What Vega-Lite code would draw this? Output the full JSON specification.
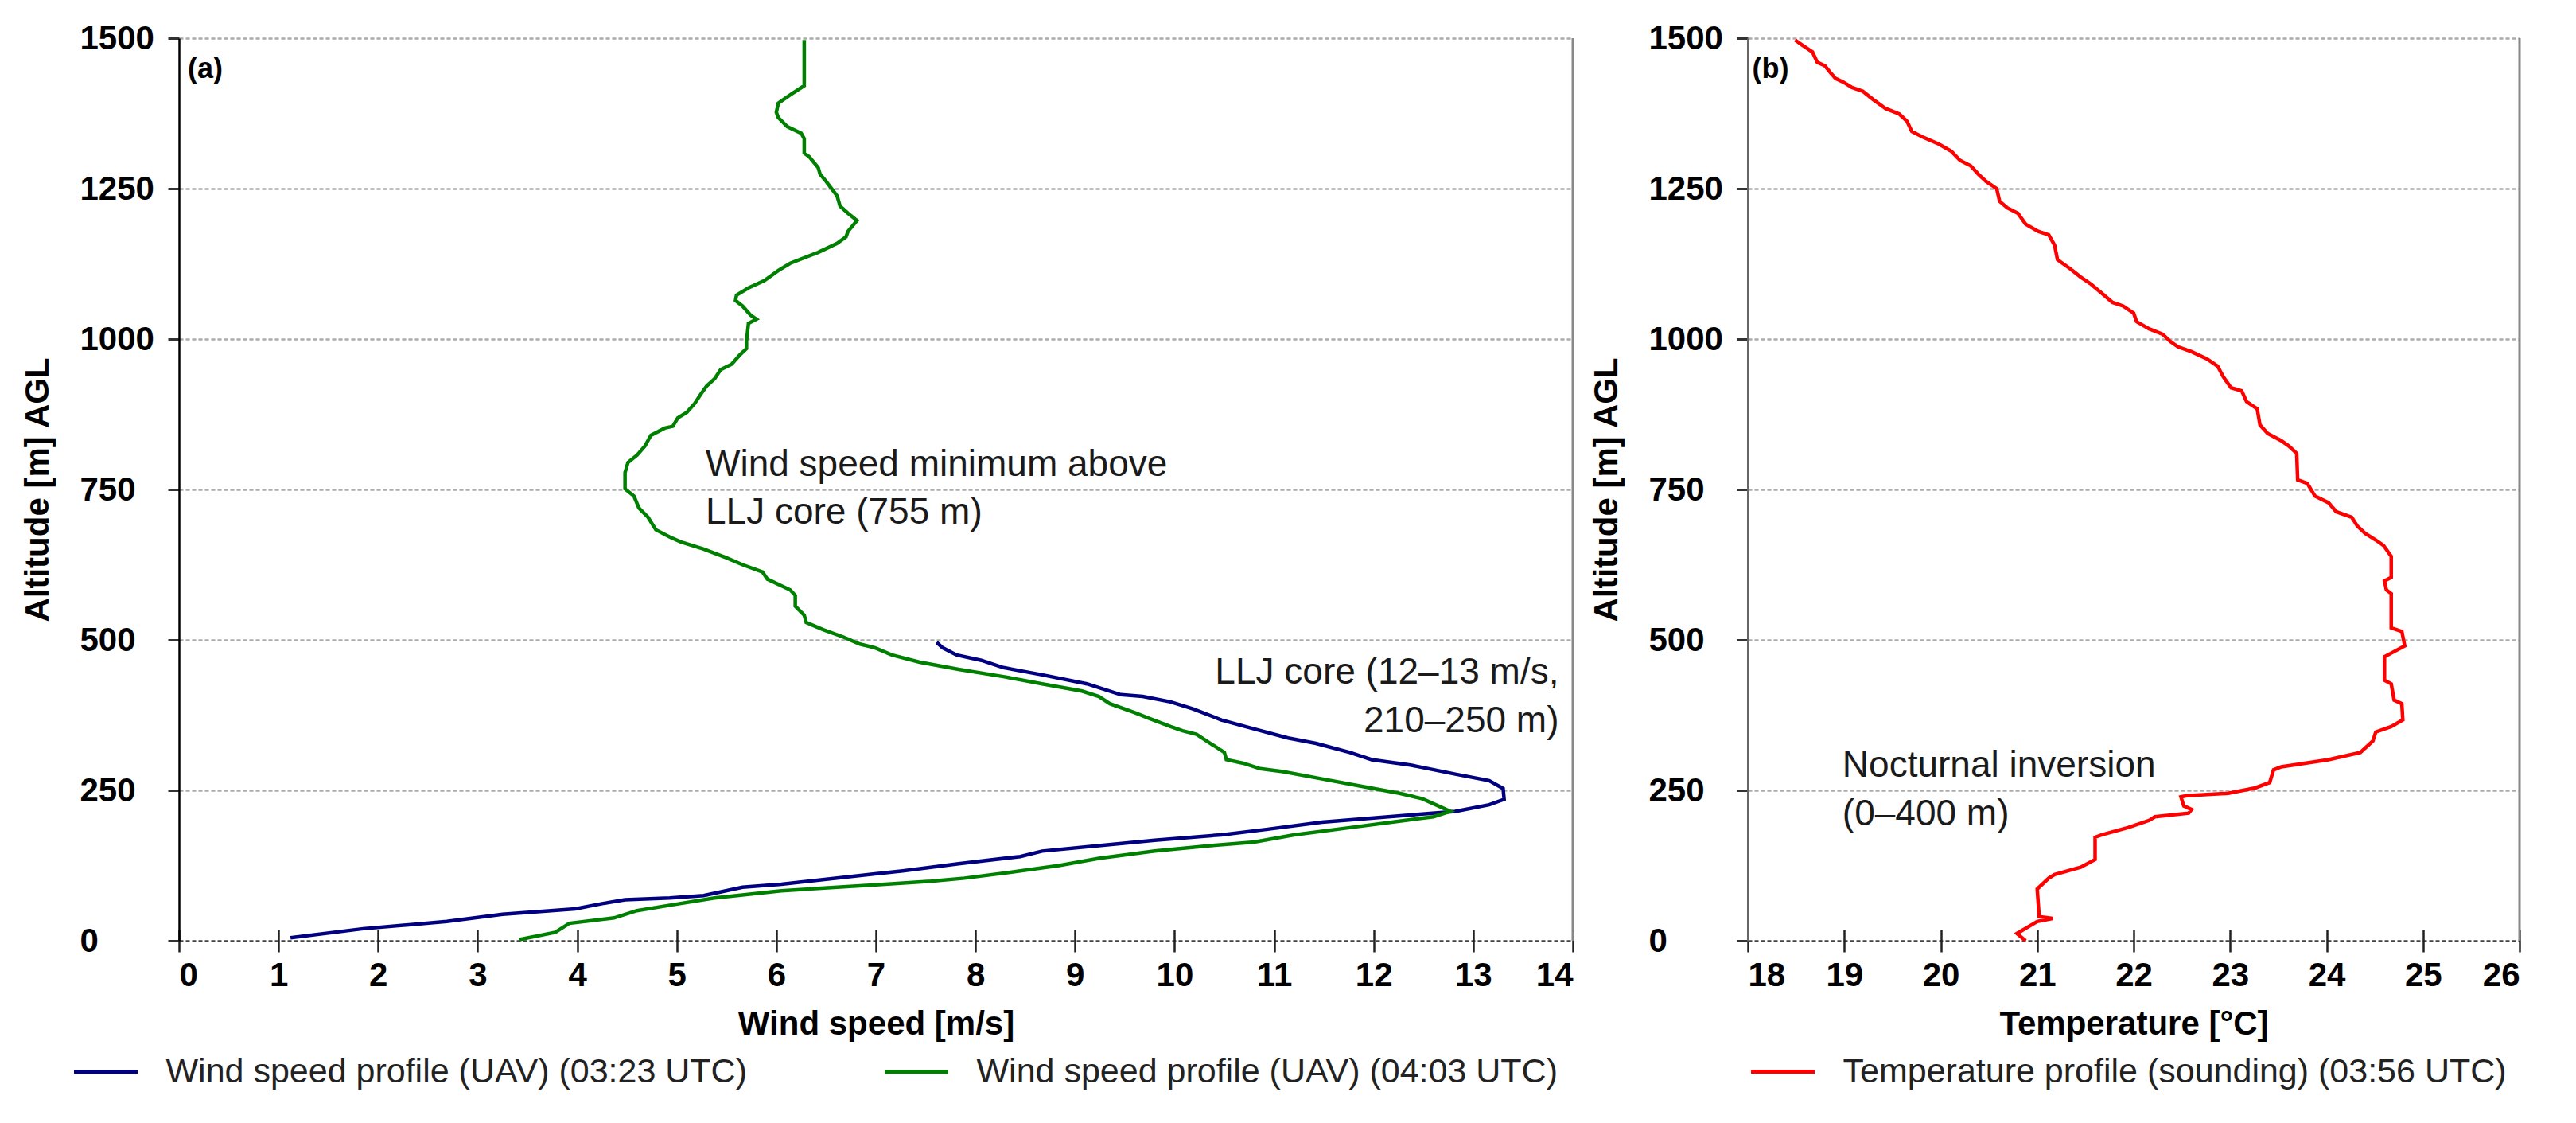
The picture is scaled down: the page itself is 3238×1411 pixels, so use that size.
{
  "$schema": "https://vega.github.io/schema/vega-lite/v6.json",
  "padding": {"left": 26, "top": 27, "right": 0, "bottom": 0},
  "background": "white",
  "config": {
    "font": "Liberation Sans",
    "view": {"stroke": null},
    "axis": {
      "labelFont": "Liberation Sans", "labelFontSize": 42, "labelFontWeight": "bold", "labelColor": "#000",
      "titleFont": "Liberation Sans", "titleFontSize": 42, "titleFontWeight": "bold", "titleColor": "#000",
      "labelOverlap": false, "format": "d"
    },
    "legend": {
      "labelFont": "Liberation Sans", "labelFontSize": 43, "labelColor": "#222", "labelLimit": 2000,
      "symbolType": "stroke", "symbolSize": 6400, "symbolStrokeWidth": 5, "labelOffset": 33, "padding": 0
    }
  },
  "datasets": {
    "wind": [
      {"profile": "Wind speed profile (UAV) (03:23 UTC)", "speed": 1.12, "altitude": 5},
      {"profile": "Wind speed profile (UAV) (03:23 UTC)", "speed": 1.85, "altitude": 20},
      {"profile": "Wind speed profile (UAV) (03:23 UTC)", "speed": 2.69, "altitude": 32},
      {"profile": "Wind speed profile (UAV) (03:23 UTC)", "speed": 3.25, "altitude": 44},
      {"profile": "Wind speed profile (UAV) (03:23 UTC)", "speed": 3.98, "altitude": 53},
      {"profile": "Wind speed profile (UAV) (03:23 UTC)", "speed": 4.26, "altitude": 62},
      {"profile": "Wind speed profile (UAV) (03:23 UTC)", "speed": 4.48, "altitude": 68},
      {"profile": "Wind speed profile (UAV) (03:23 UTC)", "speed": 4.93, "altitude": 71},
      {"profile": "Wind speed profile (UAV) (03:23 UTC)", "speed": 5.27, "altitude": 75},
      {"profile": "Wind speed profile (UAV) (03:23 UTC)", "speed": 5.66, "altitude": 89},
      {"profile": "Wind speed profile (UAV) (03:23 UTC)", "speed": 6.05, "altitude": 94},
      {"profile": "Wind speed profile (UAV) (03:23 UTC)", "speed": 6.99, "altitude": 111},
      {"profile": "Wind speed profile (UAV) (03:23 UTC)", "speed": 7.27, "altitude": 116},
      {"profile": "Wind speed profile (UAV) (03:23 UTC)", "speed": 7.83, "altitude": 128},
      {"profile": "Wind speed profile (UAV) (03:23 UTC)", "speed": 8.45, "altitude": 140},
      {"profile": "Wind speed profile (UAV) (03:23 UTC)", "speed": 8.67, "altitude": 149},
      {"profile": "Wind speed profile (UAV) (03:23 UTC)", "speed": 9.24, "altitude": 158},
      {"profile": "Wind speed profile (UAV) (03:23 UTC)", "speed": 9.8, "altitude": 167},
      {"profile": "Wind speed profile (UAV) (03:23 UTC)", "speed": 10.47, "altitude": 176},
      {"profile": "Wind speed profile (UAV) (03:23 UTC)", "speed": 10.92, "altitude": 185},
      {"profile": "Wind speed profile (UAV) (03:23 UTC)", "speed": 11.48, "altitude": 197},
      {"profile": "Wind speed profile (UAV) (03:23 UTC)", "speed": 12.37, "altitude": 209},
      {"profile": "Wind speed profile (UAV) (03:23 UTC)", "speed": 12.82, "altitude": 215},
      {"profile": "Wind speed profile (UAV) (03:23 UTC)", "speed": 13.16, "altitude": 226},
      {"profile": "Wind speed profile (UAV) (03:23 UTC)", "speed": 13.31, "altitude": 235},
      {"profile": "Wind speed profile (UAV) (03:23 UTC)", "speed": 13.3, "altitude": 253},
      {"profile": "Wind speed profile (UAV) (03:23 UTC)", "speed": 13.16, "altitude": 266},
      {"profile": "Wind speed profile (UAV) (03:23 UTC)", "speed": 12.82, "altitude": 277},
      {"profile": "Wind speed profile (UAV) (03:23 UTC)", "speed": 12.37, "altitude": 292},
      {"profile": "Wind speed profile (UAV) (03:23 UTC)", "speed": 11.98, "altitude": 301},
      {"profile": "Wind speed profile (UAV) (03:23 UTC)", "speed": 11.76, "altitude": 313},
      {"profile": "Wind speed profile (UAV) (03:23 UTC)", "speed": 11.42, "altitude": 328},
      {"profile": "Wind speed profile (UAV) (03:23 UTC)", "speed": 11.14, "altitude": 337},
      {"profile": "Wind speed profile (UAV) (03:23 UTC)", "speed": 10.8, "altitude": 352},
      {"profile": "Wind speed profile (UAV) (03:23 UTC)", "speed": 10.47, "altitude": 367},
      {"profile": "Wind speed profile (UAV) (03:23 UTC)", "speed": 10.19, "altitude": 385},
      {"profile": "Wind speed profile (UAV) (03:23 UTC)", "speed": 9.96, "altitude": 397},
      {"profile": "Wind speed profile (UAV) (03:23 UTC)", "speed": 9.68, "altitude": 406},
      {"profile": "Wind speed profile (UAV) (03:23 UTC)", "speed": 9.46, "altitude": 409},
      {"profile": "Wind speed profile (UAV) (03:23 UTC)", "speed": 9.12, "altitude": 427},
      {"profile": "Wind speed profile (UAV) (03:23 UTC)", "speed": 8.67, "altitude": 442},
      {"profile": "Wind speed profile (UAV) (03:23 UTC)", "speed": 8.28, "altitude": 454},
      {"profile": "Wind speed profile (UAV) (03:23 UTC)", "speed": 8.06, "altitude": 466},
      {"profile": "Wind speed profile (UAV) (03:23 UTC)", "speed": 7.81, "altitude": 475},
      {"profile": "Wind speed profile (UAV) (03:23 UTC)", "speed": 7.67, "altitude": 487},
      {"profile": "Wind speed profile (UAV) (03:23 UTC)", "speed": 7.61, "altitude": 496},
      {"profile": "Wind speed profile (UAV) (04:03 UTC)", "speed": 3.42, "altitude": 2},
      {"profile": "Wind speed profile (UAV) (04:03 UTC)", "speed": 3.78, "altitude": 14},
      {"profile": "Wind speed profile (UAV) (04:03 UTC)", "speed": 3.92, "altitude": 29},
      {"profile": "Wind speed profile (UAV) (04:03 UTC)", "speed": 4.37, "altitude": 38},
      {"profile": "Wind speed profile (UAV) (04:03 UTC)", "speed": 4.6, "altitude": 50},
      {"profile": "Wind speed profile (UAV) (04:03 UTC)", "speed": 4.93, "altitude": 59},
      {"profile": "Wind speed profile (UAV) (04:03 UTC)", "speed": 5.38, "altitude": 71},
      {"profile": "Wind speed profile (UAV) (04:03 UTC)", "speed": 6.05, "altitude": 83},
      {"profile": "Wind speed profile (UAV) (04:03 UTC)", "speed": 7.0, "altitude": 93},
      {"profile": "Wind speed profile (UAV) (04:03 UTC)", "speed": 7.55, "altitude": 99},
      {"profile": "Wind speed profile (UAV) (04:03 UTC)", "speed": 7.89, "altitude": 104},
      {"profile": "Wind speed profile (UAV) (04:03 UTC)", "speed": 8.45, "altitude": 116},
      {"profile": "Wind speed profile (UAV) (04:03 UTC)", "speed": 8.84, "altitude": 125},
      {"profile": "Wind speed profile (UAV) (04:03 UTC)", "speed": 9.24, "altitude": 137},
      {"profile": "Wind speed profile (UAV) (04:03 UTC)", "speed": 9.8, "altitude": 149},
      {"profile": "Wind speed profile (UAV) (04:03 UTC)", "speed": 10.36, "altitude": 158},
      {"profile": "Wind speed profile (UAV) (04:03 UTC)", "speed": 10.8, "altitude": 164},
      {"profile": "Wind speed profile (UAV) (04:03 UTC)", "speed": 11.2, "altitude": 176},
      {"profile": "Wind speed profile (UAV) (04:03 UTC)", "speed": 11.76, "altitude": 188},
      {"profile": "Wind speed profile (UAV) (04:03 UTC)", "speed": 12.32, "altitude": 200},
      {"profile": "Wind speed profile (UAV) (04:03 UTC)", "speed": 12.6, "altitude": 206},
      {"profile": "Wind speed profile (UAV) (04:03 UTC)", "speed": 12.77, "altitude": 215},
      {"profile": "Wind speed profile (UAV) (04:03 UTC)", "speed": 12.65, "altitude": 224},
      {"profile": "Wind speed profile (UAV) (04:03 UTC)", "speed": 12.49, "altitude": 236},
      {"profile": "Wind speed profile (UAV) (04:03 UTC)", "speed": 12.26, "altitude": 245},
      {"profile": "Wind speed profile (UAV) (04:03 UTC)", "speed": 11.87, "altitude": 257},
      {"profile": "Wind speed profile (UAV) (04:03 UTC)", "speed": 11.48, "altitude": 269},
      {"profile": "Wind speed profile (UAV) (04:03 UTC)", "speed": 11.09, "altitude": 281},
      {"profile": "Wind speed profile (UAV) (04:03 UTC)", "speed": 10.86, "altitude": 286},
      {"profile": "Wind speed profile (UAV) (04:03 UTC)", "speed": 10.69, "altitude": 295},
      {"profile": "Wind speed profile (UAV) (04:03 UTC)", "speed": 10.52, "altitude": 301},
      {"profile": "Wind speed profile (UAV) (04:03 UTC)", "speed": 10.5, "altitude": 313},
      {"profile": "Wind speed profile (UAV) (04:03 UTC)", "speed": 10.36, "altitude": 328},
      {"profile": "Wind speed profile (UAV) (04:03 UTC)", "speed": 10.22, "altitude": 343},
      {"profile": "Wind speed profile (UAV) (04:03 UTC)", "speed": 10.08, "altitude": 349},
      {"profile": "Wind speed profile (UAV) (04:03 UTC)", "speed": 9.96, "altitude": 356},
      {"profile": "Wind speed profile (UAV) (04:03 UTC)", "speed": 9.74, "altitude": 370},
      {"profile": "Wind speed profile (UAV) (04:03 UTC)", "speed": 9.6, "altitude": 379},
      {"profile": "Wind speed profile (UAV) (04:03 UTC)", "speed": 9.35, "altitude": 394},
      {"profile": "Wind speed profile (UAV) (04:03 UTC)", "speed": 9.24, "altitude": 406},
      {"profile": "Wind speed profile (UAV) (04:03 UTC)", "speed": 9.07, "altitude": 415},
      {"profile": "Wind speed profile (UAV) (04:03 UTC)", "speed": 8.67, "altitude": 427},
      {"profile": "Wind speed profile (UAV) (04:03 UTC)", "speed": 8.28, "altitude": 439},
      {"profile": "Wind speed profile (UAV) (04:03 UTC)", "speed": 7.83, "altitude": 451},
      {"profile": "Wind speed profile (UAV) (04:03 UTC)", "speed": 7.44, "altitude": 463},
      {"profile": "Wind speed profile (UAV) (04:03 UTC)", "speed": 7.16, "altitude": 475},
      {"profile": "Wind speed profile (UAV) (04:03 UTC)", "speed": 6.99, "altitude": 487},
      {"profile": "Wind speed profile (UAV) (04:03 UTC)", "speed": 6.84, "altitude": 493},
      {"profile": "Wind speed profile (UAV) (04:03 UTC)", "speed": 6.67, "altitude": 505},
      {"profile": "Wind speed profile (UAV) (04:03 UTC)", "speed": 6.47, "altitude": 517},
      {"profile": "Wind speed profile (UAV) (04:03 UTC)", "speed": 6.3, "altitude": 529},
      {"profile": "Wind speed profile (UAV) (04:03 UTC)", "speed": 6.28, "altitude": 541},
      {"profile": "Wind speed profile (UAV) (04:03 UTC)", "speed": 6.19, "altitude": 556},
      {"profile": "Wind speed profile (UAV) (04:03 UTC)", "speed": 6.19, "altitude": 574},
      {"profile": "Wind speed profile (UAV) (04:03 UTC)", "speed": 6.14, "altitude": 583},
      {"profile": "Wind speed profile (UAV) (04:03 UTC)", "speed": 5.91, "altitude": 601},
      {"profile": "Wind speed profile (UAV) (04:03 UTC)", "speed": 5.86, "altitude": 613},
      {"profile": "Wind speed profile (UAV) (04:03 UTC)", "speed": 5.66, "altitude": 625},
      {"profile": "Wind speed profile (UAV) (04:03 UTC)", "speed": 5.49, "altitude": 637},
      {"profile": "Wind speed profile (UAV) (04:03 UTC)", "speed": 5.27, "altitude": 651},
      {"profile": "Wind speed profile (UAV) (04:03 UTC)", "speed": 5.04, "altitude": 663},
      {"profile": "Wind speed profile (UAV) (04:03 UTC)", "speed": 4.93, "altitude": 671},
      {"profile": "Wind speed profile (UAV) (04:03 UTC)", "speed": 4.79, "altitude": 683},
      {"profile": "Wind speed profile (UAV) (04:03 UTC)", "speed": 4.71, "altitude": 704},
      {"profile": "Wind speed profile (UAV) (04:03 UTC)", "speed": 4.62, "altitude": 719},
      {"profile": "Wind speed profile (UAV) (04:03 UTC)", "speed": 4.57, "altitude": 739},
      {"profile": "Wind speed profile (UAV) (04:03 UTC)", "speed": 4.48, "altitude": 751},
      {"profile": "Wind speed profile (UAV) (04:03 UTC)", "speed": 4.48, "altitude": 778},
      {"profile": "Wind speed profile (UAV) (04:03 UTC)", "speed": 4.51, "altitude": 795},
      {"profile": "Wind speed profile (UAV) (04:03 UTC)", "speed": 4.6, "altitude": 807},
      {"profile": "Wind speed profile (UAV) (04:03 UTC)", "speed": 4.68, "altitude": 822},
      {"profile": "Wind speed profile (UAV) (04:03 UTC)", "speed": 4.74, "altitude": 840},
      {"profile": "Wind speed profile (UAV) (04:03 UTC)", "speed": 4.88, "altitude": 852},
      {"profile": "Wind speed profile (UAV) (04:03 UTC)", "speed": 4.96, "altitude": 855},
      {"profile": "Wind speed profile (UAV) (04:03 UTC)", "speed": 5.01, "altitude": 869},
      {"profile": "Wind speed profile (UAV) (04:03 UTC)", "speed": 5.1, "altitude": 878},
      {"profile": "Wind speed profile (UAV) (04:03 UTC)", "speed": 5.18, "altitude": 893},
      {"profile": "Wind speed profile (UAV) (04:03 UTC)", "speed": 5.24, "altitude": 908},
      {"profile": "Wind speed profile (UAV) (04:03 UTC)", "speed": 5.3, "altitude": 922},
      {"profile": "Wind speed profile (UAV) (04:03 UTC)", "speed": 5.38, "altitude": 934},
      {"profile": "Wind speed profile (UAV) (04:03 UTC)", "speed": 5.44, "altitude": 949},
      {"profile": "Wind speed profile (UAV) (04:03 UTC)", "speed": 5.55, "altitude": 958},
      {"profile": "Wind speed profile (UAV) (04:03 UTC)", "speed": 5.63, "altitude": 973},
      {"profile": "Wind speed profile (UAV) (04:03 UTC)", "speed": 5.7, "altitude": 984},
      {"profile": "Wind speed profile (UAV) (04:03 UTC)", "speed": 5.7, "altitude": 996},
      {"profile": "Wind speed profile (UAV) (04:03 UTC)", "speed": 5.72, "altitude": 1026},
      {"profile": "Wind speed profile (UAV) (04:03 UTC)", "speed": 5.8, "altitude": 1033},
      {"profile": "Wind speed profile (UAV) (04:03 UTC)", "speed": 5.74, "altitude": 1040},
      {"profile": "Wind speed profile (UAV) (04:03 UTC)", "speed": 5.66, "altitude": 1055},
      {"profile": "Wind speed profile (UAV) (04:03 UTC)", "speed": 5.59, "altitude": 1064},
      {"profile": "Wind speed profile (UAV) (04:03 UTC)", "speed": 5.6, "altitude": 1073},
      {"profile": "Wind speed profile (UAV) (04:03 UTC)", "speed": 5.72, "altitude": 1085},
      {"profile": "Wind speed profile (UAV) (04:03 UTC)", "speed": 5.88, "altitude": 1097},
      {"profile": "Wind speed profile (UAV) (04:03 UTC)", "speed": 6.02, "altitude": 1114},
      {"profile": "Wind speed profile (UAV) (04:03 UTC)", "speed": 6.14, "altitude": 1126},
      {"profile": "Wind speed profile (UAV) (04:03 UTC)", "speed": 6.42, "altitude": 1144},
      {"profile": "Wind speed profile (UAV) (04:03 UTC)", "speed": 6.61, "altitude": 1159},
      {"profile": "Wind speed profile (UAV) (04:03 UTC)", "speed": 6.7, "altitude": 1170},
      {"profile": "Wind speed profile (UAV) (04:03 UTC)", "speed": 6.72, "altitude": 1179},
      {"profile": "Wind speed profile (UAV) (04:03 UTC)", "speed": 6.81, "altitude": 1197},
      {"profile": "Wind speed profile (UAV) (04:03 UTC)", "speed": 6.72, "altitude": 1209},
      {"profile": "Wind speed profile (UAV) (04:03 UTC)", "speed": 6.64, "altitude": 1221},
      {"profile": "Wind speed profile (UAV) (04:03 UTC)", "speed": 6.61, "altitude": 1238},
      {"profile": "Wind speed profile (UAV) (04:03 UTC)", "speed": 6.5, "altitude": 1262},
      {"profile": "Wind speed profile (UAV) (04:03 UTC)", "speed": 6.44, "altitude": 1274},
      {"profile": "Wind speed profile (UAV) (04:03 UTC)", "speed": 6.42, "altitude": 1285},
      {"profile": "Wind speed profile (UAV) (04:03 UTC)", "speed": 6.33, "altitude": 1303},
      {"profile": "Wind speed profile (UAV) (04:03 UTC)", "speed": 6.28, "altitude": 1309},
      {"profile": "Wind speed profile (UAV) (04:03 UTC)", "speed": 6.28, "altitude": 1333},
      {"profile": "Wind speed profile (UAV) (04:03 UTC)", "speed": 6.25, "altitude": 1342},
      {"profile": "Wind speed profile (UAV) (04:03 UTC)", "speed": 6.11, "altitude": 1353},
      {"profile": "Wind speed profile (UAV) (04:03 UTC)", "speed": 6.02, "altitude": 1368},
      {"profile": "Wind speed profile (UAV) (04:03 UTC)", "speed": 6.0, "altitude": 1377},
      {"profile": "Wind speed profile (UAV) (04:03 UTC)", "speed": 6.02, "altitude": 1392},
      {"profile": "Wind speed profile (UAV) (04:03 UTC)", "speed": 6.14, "altitude": 1406},
      {"profile": "Wind speed profile (UAV) (04:03 UTC)", "speed": 6.28, "altitude": 1421},
      {"profile": "Wind speed profile (UAV) (04:03 UTC)", "speed": 6.28, "altitude": 1497}
    ],
    "temp": [
      {"profile": "Temperature profile (sounding) (03:56 UTC)", "temperature": 20.88, "altitude": 0},
      {"profile": "Temperature profile (sounding) (03:56 UTC)", "temperature": 20.79, "altitude": 12},
      {"profile": "Temperature profile (sounding) (03:56 UTC)", "temperature": 21.0, "altitude": 32},
      {"profile": "Temperature profile (sounding) (03:56 UTC)", "temperature": 21.16, "altitude": 37},
      {"profile": "Temperature profile (sounding) (03:56 UTC)", "temperature": 21.02, "altitude": 40},
      {"profile": "Temperature profile (sounding) (03:56 UTC)", "temperature": 21.0, "altitude": 86},
      {"profile": "Temperature profile (sounding) (03:56 UTC)", "temperature": 21.12, "altitude": 104},
      {"profile": "Temperature profile (sounding) (03:56 UTC)", "temperature": 21.18, "altitude": 110},
      {"profile": "Temperature profile (sounding) (03:56 UTC)", "temperature": 21.45, "altitude": 122},
      {"profile": "Temperature profile (sounding) (03:56 UTC)", "temperature": 21.6, "altitude": 135},
      {"profile": "Temperature profile (sounding) (03:56 UTC)", "temperature": 21.6, "altitude": 172},
      {"profile": "Temperature profile (sounding) (03:56 UTC)", "temperature": 21.67, "altitude": 176},
      {"profile": "Temperature profile (sounding) (03:56 UTC)", "temperature": 21.94, "altitude": 188},
      {"profile": "Temperature profile (sounding) (03:56 UTC)", "temperature": 22.16, "altitude": 200},
      {"profile": "Temperature profile (sounding) (03:56 UTC)", "temperature": 22.22, "altitude": 206},
      {"profile": "Temperature profile (sounding) (03:56 UTC)", "temperature": 22.57, "altitude": 212},
      {"profile": "Temperature profile (sounding) (03:56 UTC)", "temperature": 22.6, "altitude": 218},
      {"profile": "Temperature profile (sounding) (03:56 UTC)", "temperature": 22.52, "altitude": 224},
      {"profile": "Temperature profile (sounding) (03:56 UTC)", "temperature": 22.49, "altitude": 239},
      {"profile": "Temperature profile (sounding) (03:56 UTC)", "temperature": 22.55, "altitude": 241},
      {"profile": "Temperature profile (sounding) (03:56 UTC)", "temperature": 22.98, "altitude": 245},
      {"profile": "Temperature profile (sounding) (03:56 UTC)", "temperature": 23.26, "altitude": 254},
      {"profile": "Temperature profile (sounding) (03:56 UTC)", "temperature": 23.41, "altitude": 263},
      {"profile": "Temperature profile (sounding) (03:56 UTC)", "temperature": 23.45, "altitude": 284},
      {"profile": "Temperature profile (sounding) (03:56 UTC)", "temperature": 23.53, "altitude": 289},
      {"profile": "Temperature profile (sounding) (03:56 UTC)", "temperature": 24.02, "altitude": 301},
      {"profile": "Temperature profile (sounding) (03:56 UTC)", "temperature": 24.35, "altitude": 313},
      {"profile": "Temperature profile (sounding) (03:56 UTC)", "temperature": 24.48, "altitude": 332},
      {"profile": "Temperature profile (sounding) (03:56 UTC)", "temperature": 24.51, "altitude": 347},
      {"profile": "Temperature profile (sounding) (03:56 UTC)", "temperature": 24.67, "altitude": 356},
      {"profile": "Temperature profile (sounding) (03:56 UTC)", "temperature": 24.79, "altitude": 367},
      {"profile": "Temperature profile (sounding) (03:56 UTC)", "temperature": 24.78, "altitude": 394},
      {"profile": "Temperature profile (sounding) (03:56 UTC)", "temperature": 24.7, "altitude": 400},
      {"profile": "Temperature profile (sounding) (03:56 UTC)", "temperature": 24.67, "altitude": 427},
      {"profile": "Temperature profile (sounding) (03:56 UTC)", "temperature": 24.6, "altitude": 433},
      {"profile": "Temperature profile (sounding) (03:56 UTC)", "temperature": 24.6, "altitude": 472},
      {"profile": "Temperature profile (sounding) (03:56 UTC)", "temperature": 24.67, "altitude": 478},
      {"profile": "Temperature profile (sounding) (03:56 UTC)", "temperature": 24.81, "altitude": 490},
      {"profile": "Temperature profile (sounding) (03:56 UTC)", "temperature": 24.78, "altitude": 514},
      {"profile": "Temperature profile (sounding) (03:56 UTC)", "temperature": 24.67, "altitude": 520},
      {"profile": "Temperature profile (sounding) (03:56 UTC)", "temperature": 24.67, "altitude": 577},
      {"profile": "Temperature profile (sounding) (03:56 UTC)", "temperature": 24.62, "altitude": 583},
      {"profile": "Temperature profile (sounding) (03:56 UTC)", "temperature": 24.6, "altitude": 598},
      {"profile": "Temperature profile (sounding) (03:56 UTC)", "temperature": 24.67, "altitude": 604},
      {"profile": "Temperature profile (sounding) (03:56 UTC)", "temperature": 24.67, "altitude": 639},
      {"profile": "Temperature profile (sounding) (03:56 UTC)", "temperature": 24.59, "altitude": 657},
      {"profile": "Temperature profile (sounding) (03:56 UTC)", "temperature": 24.51, "altitude": 666},
      {"profile": "Temperature profile (sounding) (03:56 UTC)", "temperature": 24.4, "altitude": 677},
      {"profile": "Temperature profile (sounding) (03:56 UTC)", "temperature": 24.32, "altitude": 689},
      {"profile": "Temperature profile (sounding) (03:56 UTC)", "temperature": 24.26, "altitude": 704},
      {"profile": "Temperature profile (sounding) (03:56 UTC)", "temperature": 24.1, "altitude": 713},
      {"profile": "Temperature profile (sounding) (03:56 UTC)", "temperature": 24.02, "altitude": 728},
      {"profile": "Temperature profile (sounding) (03:56 UTC)", "temperature": 23.88, "altitude": 739},
      {"profile": "Temperature profile (sounding) (03:56 UTC)", "temperature": 23.8, "altitude": 760},
      {"profile": "Temperature profile (sounding) (03:56 UTC)", "temperature": 23.7, "altitude": 766},
      {"profile": "Temperature profile (sounding) (03:56 UTC)", "temperature": 23.69, "altitude": 810},
      {"profile": "Temperature profile (sounding) (03:56 UTC)", "temperature": 23.61, "altitude": 822},
      {"profile": "Temperature profile (sounding) (03:56 UTC)", "temperature": 23.53, "altitude": 831},
      {"profile": "Temperature profile (sounding) (03:56 UTC)", "temperature": 23.39, "altitude": 843},
      {"profile": "Temperature profile (sounding) (03:56 UTC)", "temperature": 23.31, "altitude": 857},
      {"profile": "Temperature profile (sounding) (03:56 UTC)", "temperature": 23.28, "altitude": 884},
      {"profile": "Temperature profile (sounding) (03:56 UTC)", "temperature": 23.17, "altitude": 896},
      {"profile": "Temperature profile (sounding) (03:56 UTC)", "temperature": 23.12, "altitude": 914},
      {"profile": "Temperature profile (sounding) (03:56 UTC)", "temperature": 23.01, "altitude": 919},
      {"profile": "Temperature profile (sounding) (03:56 UTC)", "temperature": 22.93, "altitude": 937},
      {"profile": "Temperature profile (sounding) (03:56 UTC)", "temperature": 22.87, "altitude": 955},
      {"profile": "Temperature profile (sounding) (03:56 UTC)", "temperature": 22.76, "altitude": 967},
      {"profile": "Temperature profile (sounding) (03:56 UTC)", "temperature": 22.6, "altitude": 979},
      {"profile": "Temperature profile (sounding) (03:56 UTC)", "temperature": 22.46, "altitude": 987},
      {"profile": "Temperature profile (sounding) (03:56 UTC)", "temperature": 22.38, "altitude": 996},
      {"profile": "Temperature profile (sounding) (03:56 UTC)", "temperature": 22.3, "altitude": 1008},
      {"profile": "Temperature profile (sounding) (03:56 UTC)", "temperature": 22.16, "altitude": 1017},
      {"profile": "Temperature profile (sounding) (03:56 UTC)", "temperature": 22.03, "altitude": 1029},
      {"profile": "Temperature profile (sounding) (03:56 UTC)", "temperature": 22.0, "altitude": 1043},
      {"profile": "Temperature profile (sounding) (03:56 UTC)", "temperature": 21.89, "altitude": 1055},
      {"profile": "Temperature profile (sounding) (03:56 UTC)", "temperature": 21.78, "altitude": 1061},
      {"profile": "Temperature profile (sounding) (03:56 UTC)", "temperature": 21.67, "altitude": 1076},
      {"profile": "Temperature profile (sounding) (03:56 UTC)", "temperature": 21.56, "altitude": 1091},
      {"profile": "Temperature profile (sounding) (03:56 UTC)", "temperature": 21.45, "altitude": 1103},
      {"profile": "Temperature profile (sounding) (03:56 UTC)", "temperature": 21.34, "altitude": 1117},
      {"profile": "Temperature profile (sounding) (03:56 UTC)", "temperature": 21.21, "altitude": 1132},
      {"profile": "Temperature profile (sounding) (03:56 UTC)", "temperature": 21.18, "altitude": 1156},
      {"profile": "Temperature profile (sounding) (03:56 UTC)", "temperature": 21.12, "altitude": 1173},
      {"profile": "Temperature profile (sounding) (03:56 UTC)", "temperature": 21.01, "altitude": 1179},
      {"profile": "Temperature profile (sounding) (03:56 UTC)", "temperature": 20.88, "altitude": 1191},
      {"profile": "Temperature profile (sounding) (03:56 UTC)", "temperature": 20.8, "altitude": 1209},
      {"profile": "Temperature profile (sounding) (03:56 UTC)", "temperature": 20.69, "altitude": 1218},
      {"profile": "Temperature profile (sounding) (03:56 UTC)", "temperature": 20.61, "altitude": 1229},
      {"profile": "Temperature profile (sounding) (03:56 UTC)", "temperature": 20.58, "altitude": 1250},
      {"profile": "Temperature profile (sounding) (03:56 UTC)", "temperature": 20.47, "altitude": 1262},
      {"profile": "Temperature profile (sounding) (03:56 UTC)", "temperature": 20.39, "altitude": 1274},
      {"profile": "Temperature profile (sounding) (03:56 UTC)", "temperature": 20.31, "altitude": 1288},
      {"profile": "Temperature profile (sounding) (03:56 UTC)", "temperature": 20.2, "altitude": 1297},
      {"profile": "Temperature profile (sounding) (03:56 UTC)", "temperature": 20.11, "altitude": 1312},
      {"profile": "Temperature profile (sounding) (03:56 UTC)", "temperature": 19.98, "altitude": 1324},
      {"profile": "Temperature profile (sounding) (03:56 UTC)", "temperature": 19.81, "altitude": 1336},
      {"profile": "Temperature profile (sounding) (03:56 UTC)", "temperature": 19.7, "altitude": 1345},
      {"profile": "Temperature profile (sounding) (03:56 UTC)", "temperature": 19.65, "altitude": 1362},
      {"profile": "Temperature profile (sounding) (03:56 UTC)", "temperature": 19.57, "altitude": 1374},
      {"profile": "Temperature profile (sounding) (03:56 UTC)", "temperature": 19.43, "altitude": 1383},
      {"profile": "Temperature profile (sounding) (03:56 UTC)", "temperature": 19.3, "altitude": 1398},
      {"profile": "Temperature profile (sounding) (03:56 UTC)", "temperature": 19.19, "altitude": 1412},
      {"profile": "Temperature profile (sounding) (03:56 UTC)", "temperature": 19.08, "altitude": 1418},
      {"profile": "Temperature profile (sounding) (03:56 UTC)", "temperature": 18.99, "altitude": 1427},
      {"profile": "Temperature profile (sounding) (03:56 UTC)", "temperature": 18.91, "altitude": 1433},
      {"profile": "Temperature profile (sounding) (03:56 UTC)", "temperature": 18.86, "altitude": 1442},
      {"profile": "Temperature profile (sounding) (03:56 UTC)", "temperature": 18.8, "altitude": 1454},
      {"profile": "Temperature profile (sounding) (03:56 UTC)", "temperature": 18.72, "altitude": 1460},
      {"profile": "Temperature profile (sounding) (03:56 UTC)", "temperature": 18.67, "altitude": 1477},
      {"profile": "Temperature profile (sounding) (03:56 UTC)", "temperature": 18.56, "altitude": 1489},
      {"profile": "Temperature profile (sounding) (03:56 UTC)", "temperature": 18.49, "altitude": 1497}
    ]
  },
  "spacing": 19,
  "resolve": {"scale": {"color": "independent"}},
  "hconcat": [
    {
      "width": 1752,
      "height": 1134,
      "layer": [
        {
          "data": {"name": "wind"},
          "mark": {"type": "line", "strokeWidth": 4.5},
          "encoding": {
            "x": {
              "field": "speed", "type": "quantitative",
              "scale": {"domain": [0, 14], "nice": false, "zero": false},
              "axis": {
                "title": "Wind speed [m/s]", "values": [0,1,2,3,4,5,6,7,8,9,10,11,12,13,14], "format": "d",
                "grid": false, "domain": false, "offset": -14, "tickSize": 28, "tickColor": "#222", "tickWidth": 2.5,
                "labelPadding": 9, "titlePadding": 20
              }
            },
            "y": {
              "field": "altitude", "type": "quantitative",
              "scale": {"domain": [0, 1500], "nice": false},
              "axis": {
                "title": "Altitude [m] AGL", "values": [0,250,500,750,1000,1250,1500], "format": "d",
                "grid": true,
                "gridColor": {"condition": {"test": "datum.value === 0", "value": "#444"}, "value": "#aaa"},
                "gridDash": [5, 3], "gridWidth": 2.5,
                "domainColor": "#000", "domainWidth": 2.5,
                "tickColor": "#333", "tickWidth": 3, "tickSize": 14,
                "labelAlign": "left", "labelPadding": 111, "titlePadding": 31
              }
            },
            "color": {
              "field": "profile", "type": "nominal",
              "scale": {"domain": ["Wind speed profile (UAV) (03:23 UTC)", "Wind speed profile (UAV) (04:03 UTC)"], "range": ["#000080", "#008000"]},
              "legend": {"title": null, "orient": "none", "legendX": -134.5, "legendY": 1256, "direction": "horizontal", "columnPadding": 162}
            },
            "order": {"field": "altitude", "type": "quantitative"}
          }
        },
        {
          "data": {"values": [{}]},
          "mark": {"type": "rule", "color": "#888", "strokeWidth": 3},
          "encoding": {"x": {"datum": 14, "type": "quantitative"}}
        },
        {
          "data": {"values": [{}]},
          "mark": {"type": "text", "align": "left", "baseline": "alphabetic", "fontSize": 36, "fontWeight": "bold", "color": "#000", "text": "(a)"},
          "encoding": {"x": {"datum": 0.088, "type": "quantitative"}, "y": {"datum": 1434, "type": "quantitative"}}
        },
        {
          "data": {"values": [{}]},
          "mark": {"type": "text", "align": "left", "baseline": "alphabetic", "fontSize": 46, "lineHeight": 60, "color": "#1a1a1a", "text": ["Wind speed minimum above", "LLJ core (755 m)"]},
          "encoding": {"x": {"datum": 5.29, "type": "quantitative"}, "y": {"datum": 772, "type": "quantitative"}}
        },
        {
          "data": {"values": [{}]},
          "mark": {"type": "text", "align": "right", "baseline": "alphabetic", "fontSize": 46, "lineHeight": 61, "color": "#1a1a1a", "text": ["LLJ core (12–13 m/s,", "210–250 m)"]},
          "encoding": {"x": {"datum": 13.86, "type": "quantitative"}, "y": {"datum": 427, "type": "quantitative"}}
        }
      ]
    },
    {
      "width": 970,
      "height": 1134,
      "layer": [
        {
          "data": {"name": "temp"},
          "mark": {"type": "line", "strokeWidth": 4.5},
          "encoding": {
            "x": {
              "field": "temperature", "type": "quantitative",
              "scale": {"domain": [18, 26], "nice": false, "zero": false},
              "axis": {
                "title": "Temperature [°C]", "values": [18,19,20,21,22,23,24,25,26], "format": "d",
                "grid": false, "domain": false, "offset": -14, "tickSize": 28, "tickColor": "#222", "tickWidth": 2.5,
                "labelPadding": 9, "titlePadding": 20
              }
            },
            "y": {
              "field": "altitude", "type": "quantitative",
              "scale": {"domain": [0, 1500], "nice": false},
              "axis": {
                "title": "Altitude [m] AGL", "values": [0,250,500,750,1000,1250,1500], "format": "d",
                "grid": true,
                "gridColor": {"condition": {"test": "datum.value === 0", "value": "#444"}, "value": "#aaa"},
                "gridDash": [5, 3], "gridWidth": 2.5,
                "domainColor": "#666", "domainWidth": 3,
                "tickColor": "#333", "tickWidth": 3, "tickSize": 14,
                "labelAlign": "left", "labelPadding": 111, "titlePadding": 31
              }
            },
            "color": {
              "field": "profile", "type": "nominal",
              "scale": {"domain": ["Temperature profile (sounding) (03:56 UTC)"], "range": ["#ff0000"]},
              "legend": {"title": null, "orient": "none", "legendX": 1.5, "legendY": 1256, "direction": "horizontal"}
            },
            "order": {"field": "altitude", "type": "quantitative"}
          }
        },
        {
          "data": {"values": [{}]},
          "mark": {"type": "rule", "color": "#888", "strokeWidth": 3},
          "encoding": {"x": {"datum": 26, "type": "quantitative"}}
        },
        {
          "data": {"values": [{}]},
          "mark": {"type": "text", "align": "left", "baseline": "alphabetic", "fontSize": 36, "fontWeight": "bold", "color": "#000", "text": "(b)"},
          "encoding": {"x": {"datum": 18.045, "type": "quantitative"}, "y": {"datum": 1434, "type": "quantitative"}}
        },
        {
          "data": {"values": [{}]},
          "mark": {"type": "text", "align": "left", "baseline": "alphabetic", "fontSize": 46, "lineHeight": 61, "color": "#1a1a1a", "text": ["Nocturnal inversion", "(0–400 m)"]},
          "encoding": {"x": {"datum": 18.98, "type": "quantitative"}, "y": {"datum": 272, "type": "quantitative"}}
        }
      ]
    }
  ]
}
